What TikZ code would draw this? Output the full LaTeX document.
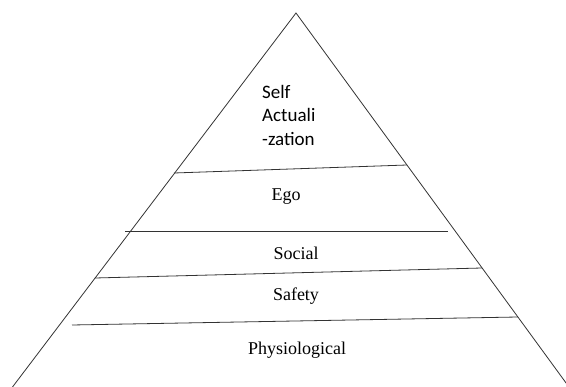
\documentclass[tikz,border=0pt]{standalone}
\usepackage{fontspec}
\setmainfont{Liberation Serif}
\newfontfamily\sidefont{Carlito}

\begin{document}
\begin{tikzpicture}[x=1pt,y=-1pt,
    edge/.style={black!80, line width=0.8pt},
    level/.style={inner sep=0pt, font=\fontsize{18}{21}\selectfont}]
  \useasboundingbox (0,0) rectangle (566,387);
  % outline of the pyramid
  \coordinate (top) at (296,13);
  \coordinate (left) at (12.5,387);
  \coordinate (right) at (569,387);
  \draw[edge] (left) -- (top) -- (right);
  % borders between the levels
  \draw[edge] (174,173) -- (407,165);
  \draw[edge] (125,231) -- (448,231);
  \draw[edge] (95,278) -- (482,268);
  \draw[edge] (72,325) -- (518,317);
  % level names
  \node[anchor=north west, align=left, inner sep=0pt,
        font=\sidefont\fontsize{19}{23.5}\selectfont] (self) at (262,85) {Self\\Actuali\\-zation};
  \node[level] (ego) at (286,197) {Ego};
  \node[level] (social) at (296,253) {Social};
  \node[level] (safety) at (296,296) {Safety};
  \node[level] (phys) at (297,350) {Physiological};
\end{tikzpicture}
\end{document}
